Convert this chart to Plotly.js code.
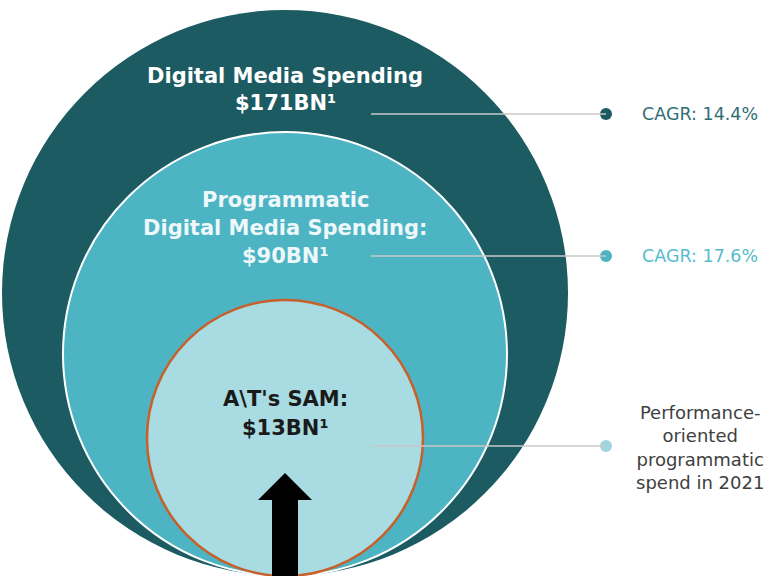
<!DOCTYPE html>
<html>
<head>
<meta charset="utf-8">
<script src="https://cdn.plot.ly/plotly-3.0.1.min.js"></script>
<style>html,body{margin:0;padding:0;background:#fff;}#chart{width:770px;height:576px;}</style>
</head>
<body>
<div id="chart"></div>
<script>
// ---- data ----
const segmentNames = ['Digital Media Spending', 'Programmatic<br>Digital Media Spending:', "A\\T's SAM:"];
const segmentValuesBn = [171, 90, 13];
const cagrLabels = ['CAGR: 14.4%', 'CAGR: 17.6%', 'Performance-<br>oriented<br>programmatic<br>spend in 2021'];

// ---- geometry / style (not data) ----
const cx = 285, baseY = 576;
const radii = [283, 222, 138];
const fills = ['#1d5b63', '#4db4c3', '#a8dbe2'];
const borders = [null, '#ffffff', '#c8602a'];
const borderW = [0, 2, 2.5];
const labelY = [[76, 103], [200, 228, 256], [399, 428]];
const labelColors = ['#ffffff', '#eef8fa', '#1a1a1a'];
const leaderY = [114, 256, 446];
const leaderX0 = 371, dotX = 606;
const dotColors = ['#1d5b63', '#4db4c3', '#9fd5de'];
const sideTextColors = ['#2f6d75', '#55bccb', '#404040'];

const shapes = [];
radii.forEach((r, i) => {
  shapes.push({
    type: 'circle', xref: 'x', yref: 'y',
    x0: cx - r, x1: cx + r, y0: baseY - 2 * r, y1: baseY,
    fillcolor: fills[i],
    line: borders[i] ? {color: borders[i], width: borderW[i]} : {width: 0},
    layer: 'below'
  });
});
leaderY.forEach(y => {
  shapes.push({type: 'line', xref: 'x', yref: 'y', x0: leaderX0, x1: dotX, y0: y, y1: y,
    line: {color: '#c9c9c9', width: 1.5}, layer: 'above'});
});
// upward arrow
shapes.push({type: 'path', xref: 'x', yref: 'y',
  path: 'M 272 576 L 272 500 L 258 500 L 285 473 L 312 500 L 298 500 L 298 576 Z',
  fillcolor: '#000000', line: {width: 0}, layer: 'above'});

const annotations = [];
const labelFont = {family: '"DejaVu Sans", sans-serif', size: 21};
// circle labels
annotations.push({x: cx, y: labelY[0][0], text: '<b>' + segmentNames[0] + '</b>'});
annotations.push({x: cx, y: labelY[0][1], text: '<b>$' + segmentValuesBn[0] + 'BN¹</b>'});
const nm1 = segmentNames[1].split('<br>');
annotations.push({x: cx, y: labelY[1][0], text: '<b>' + nm1[0] + '</b>'});
annotations.push({x: cx, y: labelY[1][1], text: '<b>' + nm1[1] + '</b>'});
annotations.push({x: cx, y: labelY[1][2], text: '<b>$' + segmentValuesBn[1] + 'BN¹</b>'});
annotations.push({x: cx, y: labelY[2][0], text: '<b>' + segmentNames[2] + '</b>'});
annotations.push({x: cx, y: labelY[2][1], text: '<b>$' + segmentValuesBn[2] + 'BN¹</b>'});
const colIdx = [0, 0, 1, 1, 1, 2, 2];
annotations.forEach((a, k) => {
  Object.assign(a, {xref: 'x', yref: 'y', showarrow: false, xanchor: 'center', yanchor: 'middle',
    font: Object.assign({}, labelFont, {color: labelColors[colIdx[k]]})});
});
// side labels
const sideFont = '"DejaVu Sans", sans-serif';
annotations.push({x: 700, y: leaderY[0], text: cagrLabels[0], xref: 'x', yref: 'y', showarrow: false,
  xanchor: 'center', yanchor: 'middle', font: {family: sideFont, size: 17.5, color: sideTextColors[0]}});
annotations.push({x: 700, y: leaderY[1], text: cagrLabels[1], xref: 'x', yref: 'y', showarrow: false,
  xanchor: 'center', yanchor: 'middle', font: {family: sideFont, size: 17.5, color: sideTextColors[1]}});
annotations.push({x: 700, y: 447, text: cagrLabels[2], xref: 'x', yref: 'y', showarrow: false,
  xanchor: 'center', yanchor: 'middle', font: {family: sideFont, size: 18, color: sideTextColors[2]}});

const dots = {
  type: 'scatter', mode: 'markers',
  x: leaderY.map(() => dotX), y: leaderY,
  marker: {size: 12, color: dotColors, line: {width: 0}},
  hoverinfo: 'skip', showlegend: false
};

const layout = {
  width: 770, height: 576,
  margin: {l: 0, r: 0, t: 0, b: 0},
  paper_bgcolor: '#ffffff', plot_bgcolor: '#ffffff',
  xaxis: {range: [0, 770], visible: false, fixedrange: true},
  yaxis: {range: [576, 0], visible: false, fixedrange: true},
  shapes: shapes,
  annotations: annotations,
  showlegend: false
};

Plotly.newPlot('chart', [dots], layout, {displayModeBar: false, staticPlot: true});
</script>
</body>
</html>
